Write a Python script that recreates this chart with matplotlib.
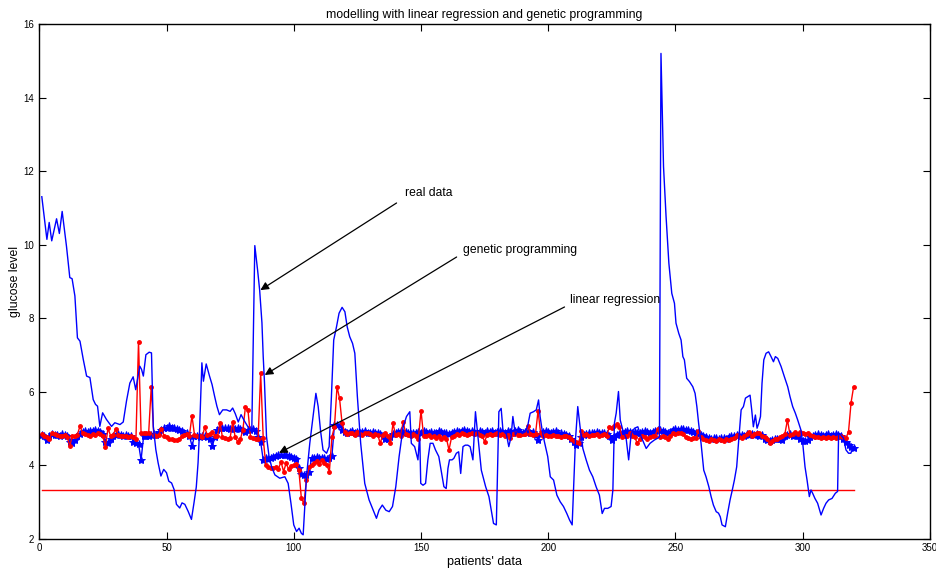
import numpy as np
import matplotlib
matplotlib.use("Agg")
import matplotlib.pyplot as plt

plt.rcParams['font.family'] = ['Liberation Sans', 'DejaVu Sans']

# ---------------- data ----------------
idx = list(range(1, 321))

gp = [
 4.85,4.80,4.75,4.70,4.88,4.85,4.82,4.78,4.80,4.83,
 4.75,4.52,4.80,4.78,4.83,5.06,4.88,4.85,4.82,4.80,
 4.85,4.83,4.86,4.84,4.78,4.50,5.00,4.80,4.82,4.97,
 4.82,4.79,4.78,4.80,4.76,4.78,4.75,4.72,7.36,4.88,
 4.88,4.87,4.88,6.13,4.82,4.80,4.83,4.99,4.80,4.75,
 4.72,4.70,4.69,4.68,4.70,4.78,4.82,4.85,4.80,5.34,
 4.82,4.80,4.78,4.75,5.03,4.82,4.85,4.91,4.80,4.78,
 5.15,4.75,4.73,4.72,4.74,5.18,4.75,4.63,4.70,4.95,
 5.57,5.50,4.77,4.73,4.72,4.72,6.50,4.73,4.00,3.95,
 3.93,3.92,3.95,3.90,4.09,3.82,4.05,3.88,3.98,4.00,
 4.02,3.86,3.09,2.96,3.59,3.95,4.00,4.05,4.10,4.02,
 4.13,4.05,4.00,3.82,4.77,5.04,6.13,5.81,5.13,4.90,
 4.85,4.88,4.86,4.82,4.90,4.85,4.83,4.88,4.86,4.84,
 4.80,4.85,4.82,4.59,4.83,4.86,4.80,4.59,5.13,4.82,
 4.85,4.80,5.18,4.85,4.82,4.80,4.84,4.78,4.72,5.48,
 4.80,4.78,4.82,4.75,4.80,4.73,4.78,4.70,4.75,4.72,
 4.41,4.75,4.80,4.85,4.82,4.86,4.84,4.82,4.85,4.86,
 4.84,4.88,4.82,4.80,4.63,4.83,4.85,4.82,4.84,4.86,
 4.83,4.85,4.80,4.82,4.73,4.84,4.86,4.83,4.82,4.85,
 4.84,5.06,4.85,4.82,4.84,5.48,4.86,4.80,4.82,4.78,
 4.80,4.82,4.78,4.80,4.76,4.80,4.78,4.75,4.72,4.65,
 4.63,4.60,4.93,4.82,4.85,4.80,4.83,4.82,4.85,4.80,
 4.82,4.84,4.80,5.04,5.02,5.06,5.12,5.04,4.77,4.80,
 4.78,4.86,4.80,4.75,4.59,4.72,4.78,4.75,4.70,4.76,
 4.78,4.80,4.97,4.75,4.78,4.76,4.72,4.80,4.86,4.85,
 4.88,4.86,4.84,4.75,4.73,4.72,4.74,4.73,4.92,4.75,
 4.72,4.68,4.66,4.70,4.68,4.65,4.70,4.68,4.66,4.70,
 4.68,4.70,4.73,4.82,4.75,4.73,4.80,4.85,4.91,4.80,
 4.85,4.88,4.86,4.80,4.75,4.70,4.59,4.65,4.72,4.70,
 4.75,4.80,4.85,5.23,4.82,4.85,4.90,4.85,4.91,4.86,
 4.84,4.88,4.82,4.78,4.77,4.75,4.73,4.76,4.74,4.75,
 4.73,4.76,4.74,4.75,4.78,4.76,4.73,4.91,5.70,6.13,
]

lr = [
 4.82,4.80,4.68,4.78,4.85,4.82,4.83,4.80,4.85,4.82,
 4.78,4.62,4.60,4.68,4.80,4.85,4.90,4.92,4.90,4.93,
 4.92,4.94,4.92,4.90,4.85,4.62,4.60,4.70,4.78,4.82,
 4.84,4.82,4.80,4.83,4.80,4.78,4.62,4.60,4.58,4.14,
 4.78,4.80,4.79,4.82,4.85,4.82,4.90,4.95,5.00,5.02,
 5.05,5.02,5.00,4.98,4.95,4.92,4.88,4.86,4.80,4.52,
 4.78,4.80,4.77,4.78,4.80,4.76,4.70,4.52,4.75,4.95,
 5.00,5.02,5.00,5.01,4.98,5.00,4.99,5.00,4.97,4.95,
 4.90,4.96,4.95,4.98,4.92,4.75,4.63,4.14,4.18,4.15,
 4.20,4.22,4.25,4.27,4.26,4.28,4.27,4.25,4.22,4.20,
 4.15,3.91,3.75,3.73,3.74,3.80,4.18,4.20,4.22,4.18,
 4.20,4.18,4.16,4.20,4.25,5.09,5.10,5.08,4.95,4.90,
 4.88,4.90,4.92,4.88,4.90,4.87,4.90,4.92,4.88,4.86,
 4.90,4.88,4.86,4.85,4.80,4.72,4.70,4.75,4.85,4.88,
 4.90,4.92,4.88,4.90,4.87,4.85,4.88,4.86,4.90,4.88,
 4.92,4.90,4.88,4.90,4.86,4.88,4.92,4.90,4.88,4.86,
 4.85,4.88,4.90,4.92,4.90,4.92,4.94,4.92,4.90,4.92,
 4.90,4.88,4.92,4.90,4.88,4.92,4.90,4.93,4.88,4.90,
 4.92,4.90,4.88,4.92,4.90,4.88,4.92,4.94,4.90,4.88,
 4.90,4.92,4.88,4.90,4.82,4.68,4.85,4.90,4.92,4.90,
 4.88,4.90,4.92,4.88,4.86,4.84,4.82,4.80,4.72,4.62,
 4.55,4.60,4.75,4.82,4.85,4.88,4.86,4.88,4.90,4.88,
 4.86,4.88,4.85,4.80,4.68,4.75,4.82,4.85,4.88,4.90,
 4.92,4.90,4.88,4.90,4.86,4.88,4.90,4.92,4.90,4.88,
 4.90,4.92,4.94,4.96,4.92,4.90,4.88,4.90,4.94,4.97,
 4.95,4.97,4.98,4.96,4.95,4.93,4.90,4.88,4.84,4.82,
 4.78,4.75,4.73,4.72,4.74,4.73,4.72,4.74,4.73,4.72,
 4.75,4.78,4.80,4.82,4.83,4.82,4.80,4.84,4.82,4.85,
 4.82,4.84,4.80,4.82,4.70,4.68,4.66,4.68,4.70,4.72,
 4.70,4.68,4.80,4.82,4.85,4.80,4.82,4.78,4.70,4.66,
 4.64,4.68,4.75,4.80,4.82,4.84,4.82,4.80,4.82,4.84,
 4.80,4.82,4.84,4.82,4.80,4.70,4.62,4.55,4.48,4.45,
]

real_x = [1,3,3.9,4.9,6.8,7.9,9,10.7,12,12.9,14,15,16,17.3,18.6,19.9,21.2,22.1,22.9,23.8,
 24.9,26.4,28.4,29.7,31.7,33,34.3,35.6,36.9,37.9,39.5,40.2,40.9,41.9,43.2,44.1,44.8,45.8,46.7,47.8,
 48.9,50,50.9,52,53,53.9,55.2,56.1,57.2,58.5,59.8,60.8,61.7,62.4,63,63.9,64.5,65.6,66.9,67.9,
 68.9,69.8,70.8,72.1,73.6,75,76,77,78.2,79.3,80.6,81.9,83.5,84.7,85.8,86.6,87.5,88,88.5,89.3,
 90.3,91.3,92.6,94.5,96.5,97.8,98.9,100,101.1,102.1,103,103.7,105,106.3,107.6,108.7,109.6,110.5,111.5,112.9,
 113.9,114.8,115.7,116.8,117.8,119,120.1,121,122,123.1,124,125,126.3,127.9,129.6,131.2,132.5,133.5,134.8,136.2,
 137.5,138.8,140.1,141.4,143,144.3,145.6,146.2,147.5,148.8,149.5,149.9,150.8,151.8,152.7,153.6,154.7,155.7,157,158,
 159,159.9,160.6,161.2,162.2,162.9,163.9,164.8,165.6,166.5,167.4,168.4,169.3,170.4,171.4,172.4,173.7,175.4,176.7,177.6,
 178.5,179.6,180.6,181.5,182.2,183.5,184.5,185.4,186.1,187.1,188.5,189.8,191.1,192,192.9,194.2,195.3,196.2,196.8,197.6,
 198.5,199.8,200.8,202.1,203.4,204.7,206,207.3,208.4,209.4,210.1,210.7,211.6,212.5,213.6,214.9,216.2,217.5,218.8,220.1,
 221.2,222.1,223.4,224.7,225.4,226,226.7,227.6,228.3,229.3,230.6,231.6,232.6,233.9,235.2,236.5,238.5,240,241.7,243,
 243.7,244.3,245.3,246.3,247.4,248.55,249.6,250.2,251.3,252.2,252.9,253.5,254.4,255.5,256.8,257.7,258.4,259.1,260.05,261.1,
 262,263.1,264,264.9,266,266.9,267.6,268.3,269.6,270.5,271.45,272.2,273.15,274.05,274.85,275.8,276.7,277.5,278.4,279.3,
 279.95,280.6,281.4,282.05,282.7,283.4,284,284.7,285.6,286.6,287.55,288.5,289.25,290.2,291.5,292.8,294.1,295,296.05,297.1,
 298,299.3,300,300.9,301.7,302.6,303.25,303.9,304.8,305.85,307.2,308.2,309.15,310.2,311.5,312.8,313.7,314.1,315,316,
 317,318,318.9,319.6]
real_y = [11.3,10.14,10.6,10.1,10.7,10.3,10.9,9.95,9.1,9.07,8.6,7.46,7.37,6.87,6.42,6.38,5.78,5.65,5.6,5.05,
 5.42,5.24,5.05,5.15,5.1,5.17,5.75,6.23,6.4,6.05,6.69,6.6,6.42,7.0,7.07,7.05,5.05,4.42,4.06,3.7,
 3.88,3.79,3.56,3.51,3.33,2.93,2.83,2.97,2.93,2.74,2.52,2.97,3.4,4.06,4.96,6.78,6.28,6.75,6.42,6.19,
 5.87,5.6,5.37,5.5,5.5,5.46,5.55,5.4,5.17,5.37,5.2,5.05,4.9,9.97,9.3,8.76,7.87,6.95,6.25,4.77,
 4.23,3.95,3.73,3.64,3.68,3.5,2.96,2.37,2.19,2.28,2.14,2.1,3.68,4.59,5.32,5.95,5.59,4.95,4.41,4.32,
 4.5,5.86,7.4,7.76,8.13,8.29,8.17,7.76,7.49,7.31,7.04,5.86,4.59,3.5,3.05,2.77,2.55,2.77,2.91,2.77,
 2.73,2.87,3.41,4.23,5.04,5.32,5.45,4.59,4.5,4.14,4.82,3.5,3.45,3.5,4.14,4.59,4.59,4.41,4.23,3.82,
 3.41,3.36,3.91,4.14,4.14,4.18,4.32,4.36,3.77,4.5,4.54,4.54,4.5,4.14,5.45,4.77,3.86,3.41,3.14,2.78,
 2.41,2.37,5.45,5.54,4.95,4.86,4.5,4.77,5.32,4.82,5.0,4.86,4.91,5.09,5.41,5.45,5.5,5.77,5.32,4.95,
 4.63,4.23,3.68,3.59,3.18,3.0,2.87,2.68,2.5,2.37,3.59,4.68,5.59,5.04,4.45,4.14,3.86,3.68,3.41,3.18,
 2.68,2.82,2.82,2.87,3.32,5.14,5.41,6.0,5.22,4.95,4.73,4.14,4.86,5.0,5.04,4.77,4.45,4.59,4.68,4.73,
 4.77,15.2,12.12,10.76,9.49,8.67,8.4,7.86,7.58,7.4,6.95,6.86,6.36,6.27,6.13,5.95,5.59,5.13,4.59,3.86,
 3.68,3.41,3.14,2.91,2.73,2.69,2.59,2.37,2.32,2.69,3.05,3.28,3.59,3.95,4.68,5.5,5.59,5.82,5.86,5.9,
 5.5,5.04,5.36,5.0,5.13,5.32,6.22,6.86,7.04,7.08,6.95,6.81,6.95,6.9,6.68,6.4,6.13,5.86,5.59,5.41,
 5.23,4.95,4.59,3.95,3.59,3.14,3.32,3.23,3.09,2.96,2.64,2.82,2.96,3.05,3.09,3.23,3.28,4.86,4.82,4.73,
 4.41,4.32,4.32,4.45]

hypo_x = [1, 320]
hypo_level = 3.32

labels = ["real data", "genetic programming", "linear regression"]
label_pos = [(143.6, 11.4), (166.4, 9.85), (208.4, 8.49)]
arrow_tail = [(140.4, 11.13), (164.0, 9.66), (206.4, 8.30)]
arrow_head = [(86.9, 8.76), (88.6, 6.45), (94.2, 4.33)]

# ---------------- plot ----------------
fig = plt.figure(figsize=(9.37, 5.69), dpi=100)
ax = fig.add_axes([0.0419, 0.0536, 0.9506, 0.9042])

ax.plot(real_x, real_y, color='#0000ff', lw=1.0, zorder=3)
ax.plot(idx, lr, color='#0000ff', lw=1.0, marker='*', ms=6, mew=0.7, zorder=2)
ax.plot(idx, gp, color='#ff0000', lw=1.0, marker='.', ms=5, zorder=2.5)
ax.plot(hypo_x, [hypo_level, hypo_level], color='#ff0000', lw=1.0, zorder=2)

for lab, pos, t, h in zip(labels, label_pos, arrow_tail, arrow_head):
    ax.text(pos[0], pos[1], lab, fontsize=8.7, ha='left', va='center', color='black')
    ax.annotate('', xy=h, xytext=t,
                arrowprops=dict(arrowstyle='-|>', color='black', lw=0.9,
                                mutation_scale=12, shrinkA=0, shrinkB=0))

ax.set_xlim(0, 350)
ax.set_ylim(2, 16)
ax.set_xticks(np.arange(0, 351, 50))
ax.set_yticks(np.arange(2, 17, 2))
ax.tick_params(direction='in', top=True, right=True, labelsize=7, length=5, width=0.8)
for s in ax.spines.values():
    s.set_linewidth(1.0)

ax.set_title('modelling with linear regression and genetic programming', fontsize=8.8, pad=4)
ax.set_xlabel("patients' data", fontsize=9, labelpad=2)
ax.set_ylabel('glucose level', fontsize=8.8, labelpad=2)

fig.savefig('out.png', dpi=100)
